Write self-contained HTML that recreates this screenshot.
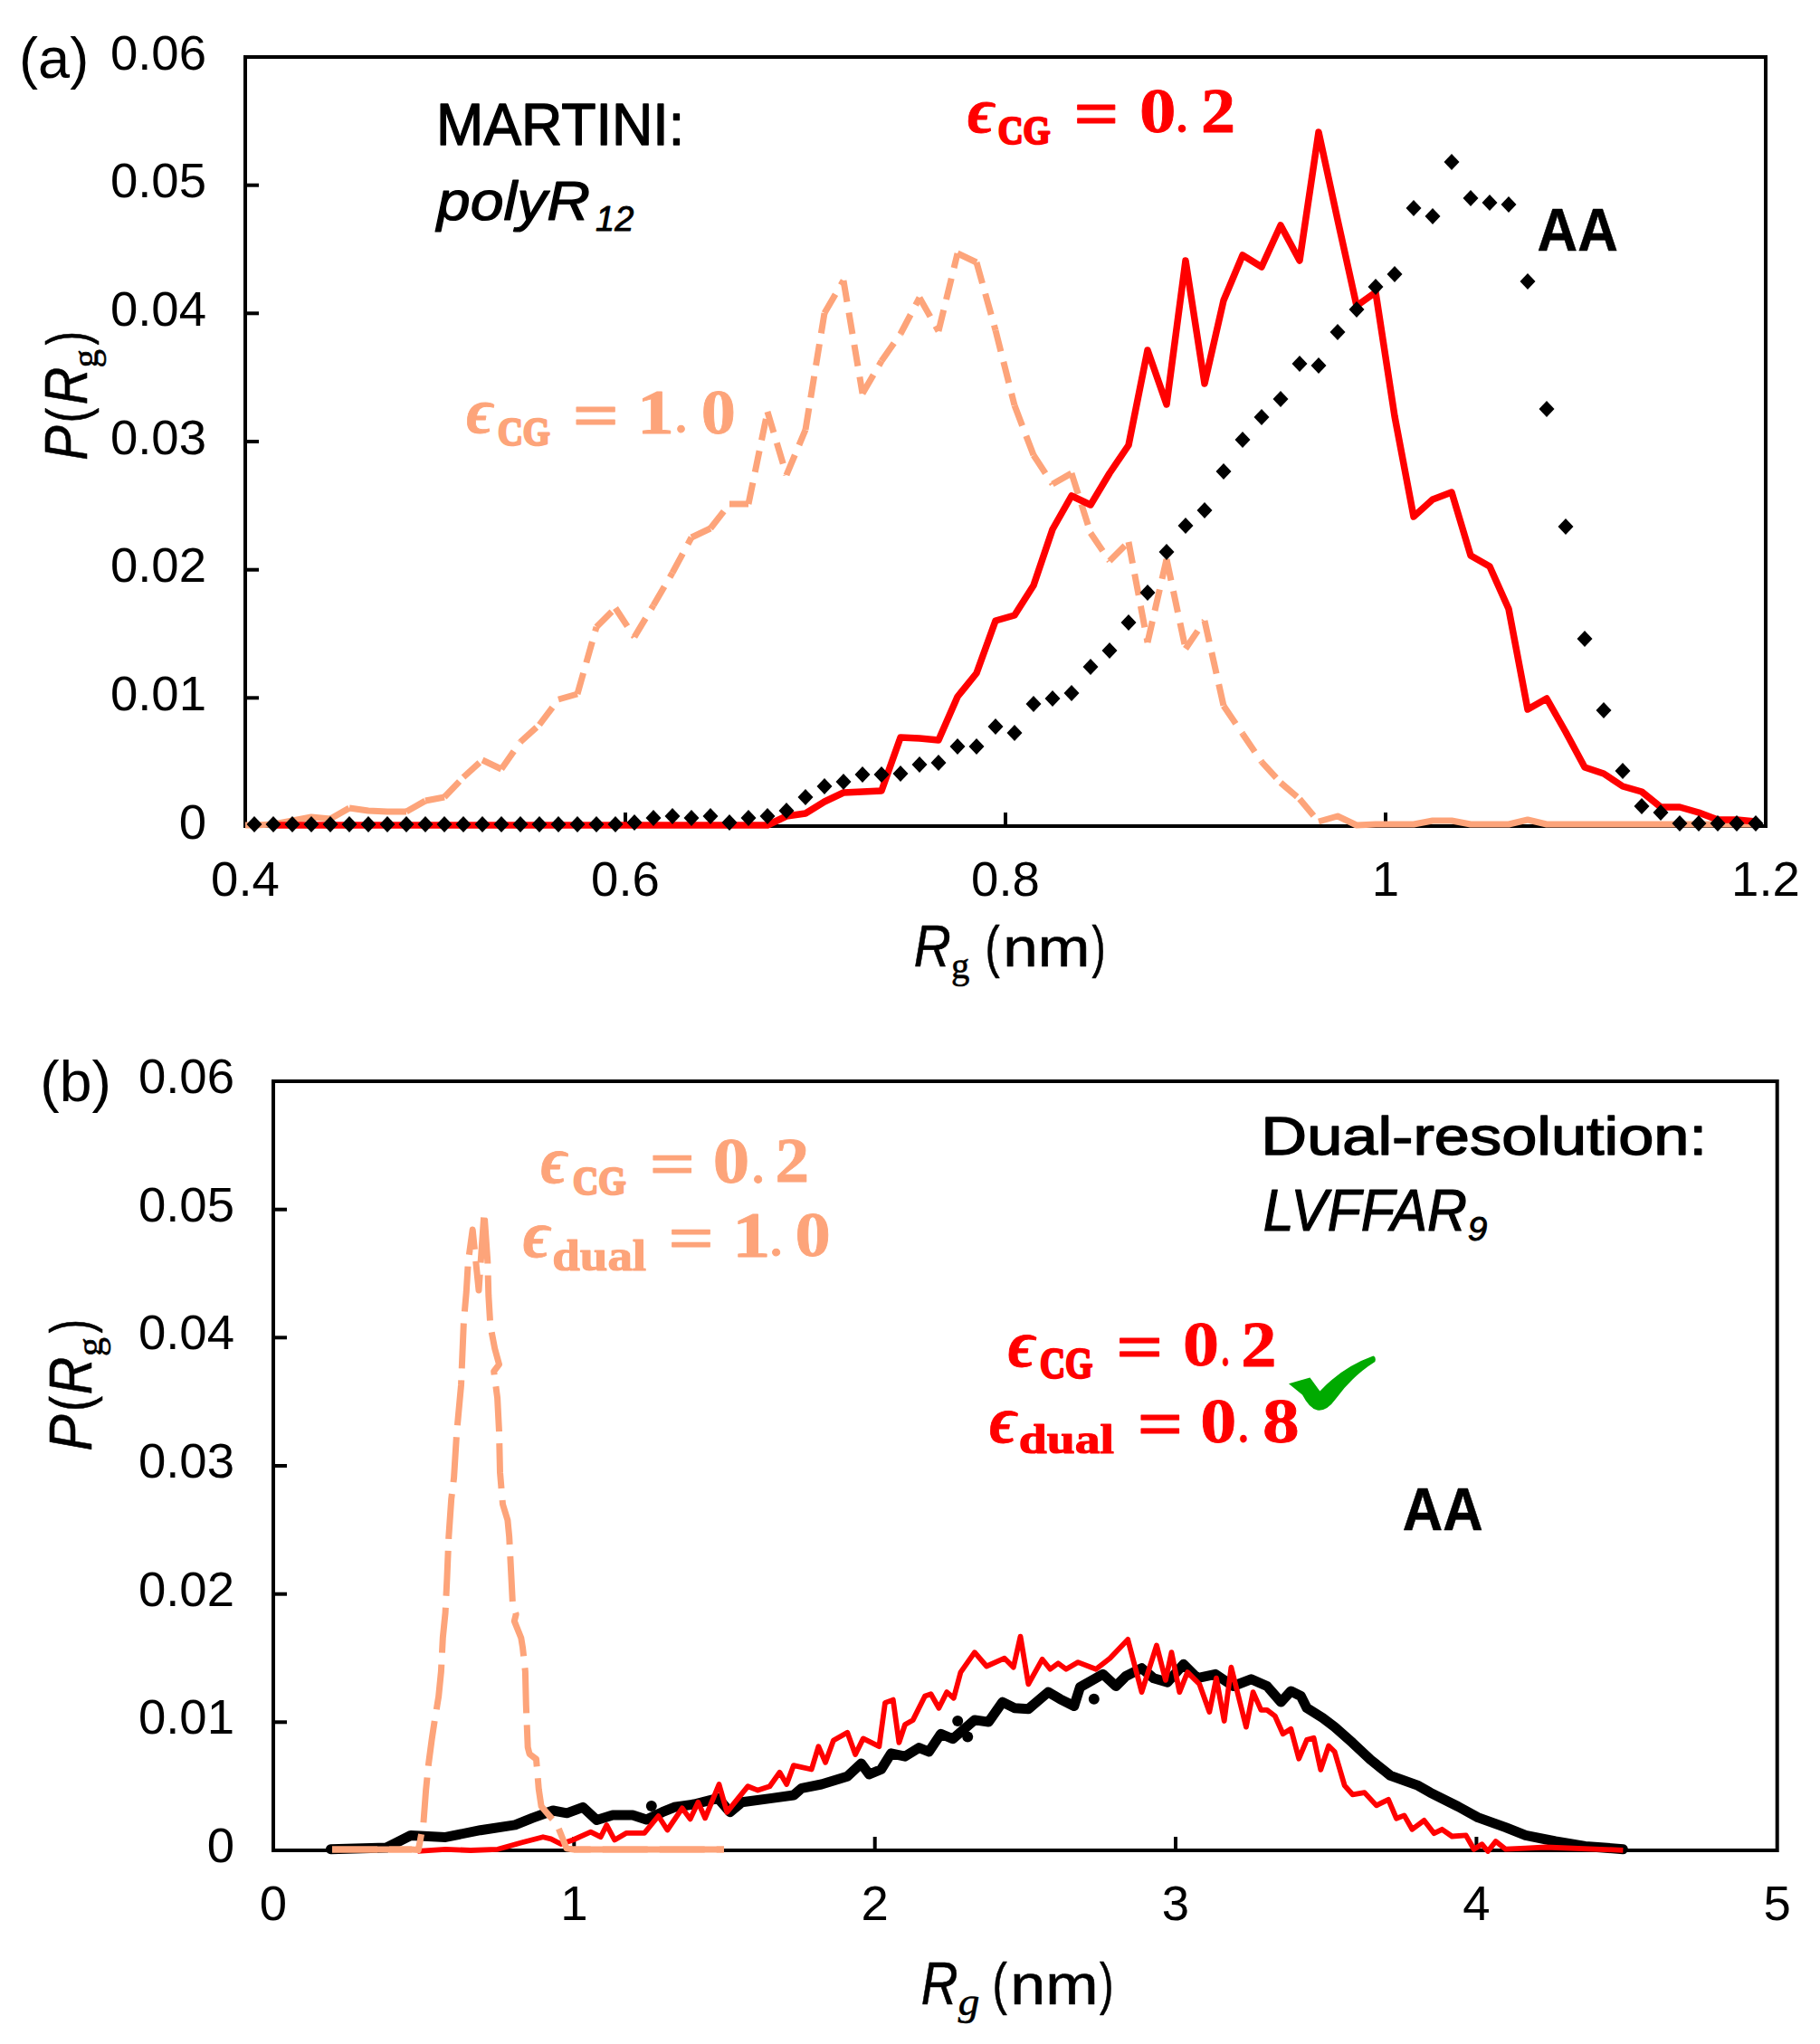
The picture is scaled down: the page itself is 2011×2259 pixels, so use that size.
<!DOCTYPE html>
<html><head><meta charset="utf-8"><style>
html,body{margin:0;padding:0;background:#fff;overflow:hidden;}
svg{display:block;}
</style></head><body>
<svg width="2011" height="2259" viewBox="0 0 2011 2259">
<rect width="2011" height="2259" fill="#fff"/>
<rect x="271" y="63" width="1680" height="850" fill="none" stroke="#000" stroke-width="4"/>
<line x1="271" y1="771.3" x2="286" y2="771.3" stroke="#000" stroke-width="4"/>
<line x1="271" y1="629.7" x2="286" y2="629.7" stroke="#000" stroke-width="4"/>
<line x1="271" y1="488.0" x2="286" y2="488.0" stroke="#000" stroke-width="4"/>
<line x1="271" y1="346.3" x2="286" y2="346.3" stroke="#000" stroke-width="4"/>
<line x1="271" y1="204.7" x2="286" y2="204.7" stroke="#000" stroke-width="4"/>
<line x1="691.0" y1="913" x2="691.0" y2="898" stroke="#000" stroke-width="4"/>
<line x1="1111.0" y1="913" x2="1111.0" y2="898" stroke="#000" stroke-width="4"/>
<line x1="1531.0" y1="913" x2="1531.0" y2="898" stroke="#000" stroke-width="4"/>
<text x="228.0" y="926.5" font-family='"Liberation Sans", sans-serif' font-size="54.5" fill="#000" text-anchor="end">0</text>
<text x="228.0" y="784.8" font-family='"Liberation Sans", sans-serif' font-size="54.5" fill="#000" text-anchor="end">0.01</text>
<text x="228.0" y="643.2" font-family='"Liberation Sans", sans-serif' font-size="54.5" fill="#000" text-anchor="end">0.02</text>
<text x="228.0" y="501.5" font-family='"Liberation Sans", sans-serif' font-size="54.5" fill="#000" text-anchor="end">0.03</text>
<text x="228.0" y="359.8" font-family='"Liberation Sans", sans-serif' font-size="54.5" fill="#000" text-anchor="end">0.04</text>
<text x="228.0" y="218.2" font-family='"Liberation Sans", sans-serif' font-size="54.5" fill="#000" text-anchor="end">0.05</text>
<text x="228.0" y="76.5" font-family='"Liberation Sans", sans-serif' font-size="54.5" fill="#000" text-anchor="end">0.06</text>
<text x="271.0" y="989.8" font-family='"Liberation Sans", sans-serif' font-size="54.5" fill="#000" text-anchor="middle">0.4</text>
<text x="691.0" y="989.8" font-family='"Liberation Sans", sans-serif' font-size="54.5" fill="#000" text-anchor="middle">0.6</text>
<text x="1111.0" y="989.8" font-family='"Liberation Sans", sans-serif' font-size="54.5" fill="#000" text-anchor="middle">0.8</text>
<text x="1531.0" y="989.8" font-family='"Liberation Sans", sans-serif' font-size="54.5" fill="#000" text-anchor="middle">1</text>
<text x="1951.0" y="989.8" font-family='"Liberation Sans", sans-serif' font-size="54.5" fill="#000" text-anchor="middle">1.2</text>
<g stroke="#FDA47A" stroke-width="7" stroke-dasharray="24 12" stroke-linecap="butt" fill="none"><line x1="365.0" y1="905.0" x2="386.0" y2="893.0"/><line x1="449.0" y1="897.0" x2="470.0" y2="885.0"/><line x1="491.0" y1="881.0" x2="512.0" y2="859.0"/><line x1="512.0" y1="859.0" x2="533.0" y2="840.0"/><line x1="554.0" y1="850.0" x2="575.0" y2="820.0"/><line x1="575.0" y1="820.0" x2="596.0" y2="801.0"/><line x1="596.0" y1="801.0" x2="617.0" y2="773.0"/><line x1="638.0" y1="767.0" x2="659.0" y2="693.0"/><line x1="659.0" y1="693.0" x2="680.0" y2="672.0"/><line x1="680.0" y1="672.0" x2="701.0" y2="704.0"/><line x1="701.0" y1="704.0" x2="722.0" y2="669.0"/><line x1="722.0" y1="669.0" x2="743.0" y2="633.0"/><line x1="743.0" y1="633.0" x2="764.0" y2="594.0"/><line x1="785.0" y1="584.0" x2="806.0" y2="557.0"/><line x1="827.0" y1="557.0" x2="848.0" y2="455.0"/><line x1="848.0" y1="455.0" x2="869.0" y2="525.0"/><line x1="869.0" y1="525.0" x2="890.0" y2="475.0"/><line x1="890.0" y1="475.0" x2="911.0" y2="346.0"/><line x1="911.0" y1="346.0" x2="932.0" y2="310.0"/><line x1="932.0" y1="310.0" x2="953.0" y2="435.0"/><line x1="953.0" y1="435.0" x2="974.0" y2="399.0"/><line x1="974.0" y1="399.0" x2="995.0" y2="369.0"/><line x1="995.0" y1="369.0" x2="1016.0" y2="329.0"/><line x1="1016.0" y1="329.0" x2="1037.0" y2="366.0"/><line x1="1037.0" y1="366.0" x2="1058.0" y2="280.0"/><line x1="1079.0" y1="290.0" x2="1100.0" y2="365.0"/><line x1="1100.0" y1="365.0" x2="1121.0" y2="448.0"/><line x1="1121.0" y1="448.0" x2="1142.0" y2="503.0"/><line x1="1142.0" y1="503.0" x2="1163.0" y2="535.0"/><line x1="1163.0" y1="535.0" x2="1184.0" y2="523.0"/><line x1="1184.0" y1="523.0" x2="1205.0" y2="589.0"/><line x1="1205.0" y1="589.0" x2="1226.0" y2="620.0"/><line x1="1226.0" y1="620.0" x2="1247.0" y2="599.0"/><line x1="1247.0" y1="599.0" x2="1268.0" y2="710.0"/><line x1="1268.0" y1="710.0" x2="1289.0" y2="618.0"/><line x1="1289.0" y1="618.0" x2="1310.0" y2="717.0"/><line x1="1310.0" y1="717.0" x2="1331.0" y2="686.0"/><line x1="1331.0" y1="686.0" x2="1352.0" y2="780.0"/><line x1="1352.0" y1="780.0" x2="1373.0" y2="811.0"/><line x1="1373.0" y1="811.0" x2="1394.0" y2="842.0"/><line x1="1394.0" y1="842.0" x2="1415.0" y2="865.0"/><line x1="1415.0" y1="865.0" x2="1436.0" y2="883.0"/><line x1="1436.0" y1="883.0" x2="1457.0" y2="908.0"/><polyline points="271.0,912.0 281.0,912.0 302.0,911.0 323.0,907.0 344.0,903.0 365.0,905.0" stroke-dasharray="none" stroke-linejoin="round"/><polyline points="386.0,893.0 407.0,896.0 428.0,897.0 449.0,897.0" stroke-dasharray="none" stroke-linejoin="round"/><polyline points="470.0,885.0 491.0,881.0" stroke-dasharray="none" stroke-linejoin="round"/><polyline points="533.0,840.0 554.0,850.0" stroke-dasharray="none" stroke-linejoin="round"/><polyline points="617.0,773.0 638.0,767.0" stroke-dasharray="none" stroke-linejoin="round"/><polyline points="764.0,594.0 785.0,584.0" stroke-dasharray="none" stroke-linejoin="round"/><polyline points="806.0,557.0 827.0,557.0" stroke-dasharray="none" stroke-linejoin="round"/><polyline points="1058.0,280.0 1079.0,290.0" stroke-dasharray="none" stroke-linejoin="round"/><polyline points="1457.0,908.0 1478.0,902.0 1499.0,912.0 1520.0,911.0 1541.0,911.0 1562.0,911.0 1583.0,907.0 1604.0,907.0 1625.0,911.0 1646.0,911.0 1667.0,911.0 1688.0,906.0 1709.0,911.0 1730.0,911.0 1751.0,911.0 1772.0,911.0 1793.0,911.0 1814.0,911.0 1835.0,911.0 1856.0,911.0 1877.0,911.0 1898.0,911.0 1919.0,911.0 1940.0,911.0" stroke-dasharray="none" stroke-linejoin="round"/></g>
<polyline points="302.0,912.0 323.0,912.0 344.0,912.0 365.0,912.0 386.0,912.0 407.0,912.0 428.0,912.0 449.0,912.0 470.0,912.0 491.0,912.0 512.0,912.0 533.0,912.0 554.0,912.0 575.0,912.0 596.0,912.0 617.0,912.0 638.0,912.0 659.0,912.0 680.0,912.0 701.0,912.0 722.0,912.0 743.0,912.0 764.0,912.0 785.0,912.0 806.0,912.0 827.0,912.0 848.0,912.0 869.0,902.0 890.0,899.0 911.0,886.0 932.0,876.0 953.0,875.0 974.0,874.0 995.0,815.0 1016.0,816.0 1037.0,818.0 1058.0,770.0 1079.0,744.0 1100.0,686.0 1121.0,680.0 1142.0,647.0 1163.0,585.0 1184.0,548.0 1205.0,558.0 1226.0,523.0 1247.0,492.0 1268.0,387.0 1289.0,447.0 1310.0,288.0 1331.0,424.0 1352.0,332.0 1373.0,282.0 1394.0,295.0 1415.0,249.0 1436.0,288.0 1457.0,146.0 1478.0,243.0 1499.0,338.0 1520.0,323.0 1541.0,460.0 1562.0,571.0 1583.0,552.0 1604.0,544.0 1625.0,614.0 1646.0,626.0 1667.0,673.0 1688.0,784.0 1709.0,772.0 1730.0,809.0 1751.0,848.0 1772.0,855.0 1793.0,869.0 1814.0,875.0 1835.0,892.0 1856.0,892.0 1877.0,898.0 1898.0,906.0 1919.0,906.0 1940.0,908.0" fill="none" stroke="#FF0000" stroke-width="7.5" stroke-linejoin="round"/>
<path d="M281 902L289.5 911L281 920L272.5 911Z" fill="#000"/>
<path d="M302 902L310.5 911L302 920L293.5 911Z" fill="#000"/>
<path d="M323 902L331.5 911L323 920L314.5 911Z" fill="#000"/>
<path d="M344 902L352.5 911L344 920L335.5 911Z" fill="#000"/>
<path d="M365 902L373.5 911L365 920L356.5 911Z" fill="#000"/>
<path d="M386 902L394.5 911L386 920L377.5 911Z" fill="#000"/>
<path d="M407 902L415.5 911L407 920L398.5 911Z" fill="#000"/>
<path d="M428 902L436.5 911L428 920L419.5 911Z" fill="#000"/>
<path d="M449 902L457.5 911L449 920L440.5 911Z" fill="#000"/>
<path d="M470 902L478.5 911L470 920L461.5 911Z" fill="#000"/>
<path d="M491 902L499.5 911L491 920L482.5 911Z" fill="#000"/>
<path d="M512 902L520.5 911L512 920L503.5 911Z" fill="#000"/>
<path d="M533 902L541.5 911L533 920L524.5 911Z" fill="#000"/>
<path d="M554 902L562.5 911L554 920L545.5 911Z" fill="#000"/>
<path d="M575 902L583.5 911L575 920L566.5 911Z" fill="#000"/>
<path d="M596 902L604.5 911L596 920L587.5 911Z" fill="#000"/>
<path d="M617 902L625.5 911L617 920L608.5 911Z" fill="#000"/>
<path d="M638 902L646.5 911L638 920L629.5 911Z" fill="#000"/>
<path d="M659 902L667.5 911L659 920L650.5 911Z" fill="#000"/>
<path d="M680 902L688.5 911L680 920L671.5 911Z" fill="#000"/>
<path d="M701 900L709.5 909L701 918L692.5 909Z" fill="#000"/>
<path d="M722 895L730.5 904L722 913L713.5 904Z" fill="#000"/>
<path d="M743 893L751.5 902L743 911L734.5 902Z" fill="#000"/>
<path d="M764 895L772.5 904L764 913L755.5 904Z" fill="#000"/>
<path d="M785 893L793.5 902L785 911L776.5 902Z" fill="#000"/>
<path d="M806 900L814.5 909L806 918L797.5 909Z" fill="#000"/>
<path d="M827 895L835.5 904L827 913L818.5 904Z" fill="#000"/>
<path d="M848 893L856.5 902L848 911L839.5 902Z" fill="#000"/>
<path d="M869 887L877.5 896L869 905L860.5 896Z" fill="#000"/>
<path d="M890 872L898.5 881L890 890L881.5 881Z" fill="#000"/>
<path d="M911 860L919.5 869L911 878L902.5 869Z" fill="#000"/>
<path d="M932 855L940.5 864L932 873L923.5 864Z" fill="#000"/>
<path d="M953 847L961.5 856L953 865L944.5 856Z" fill="#000"/>
<path d="M974 847L982.5 856L974 865L965.5 856Z" fill="#000"/>
<path d="M995 846L1003.5 855L995 864L986.5 855Z" fill="#000"/>
<path d="M1016 836L1024.5 845L1016 854L1007.5 845Z" fill="#000"/>
<path d="M1037 834L1045.5 843L1037 852L1028.5 843Z" fill="#000"/>
<path d="M1058 816L1066.5 825L1058 834L1049.5 825Z" fill="#000"/>
<path d="M1079 816L1087.5 825L1079 834L1070.5 825Z" fill="#000"/>
<path d="M1100 794L1108.5 803L1100 812L1091.5 803Z" fill="#000"/>
<path d="M1121 801L1129.5 810L1121 819L1112.5 810Z" fill="#000"/>
<path d="M1142 769L1150.5 778L1142 787L1133.5 778Z" fill="#000"/>
<path d="M1163 763L1171.5 772L1163 781L1154.5 772Z" fill="#000"/>
<path d="M1184 757L1192.5 766L1184 775L1175.5 766Z" fill="#000"/>
<path d="M1205 728L1213.5 737L1205 746L1196.5 737Z" fill="#000"/>
<path d="M1226 710L1234.5 719L1226 728L1217.5 719Z" fill="#000"/>
<path d="M1247 679L1255.5 688L1247 697L1238.5 688Z" fill="#000"/>
<path d="M1268 646L1276.5 655L1268 664L1259.5 655Z" fill="#000"/>
<path d="M1289 601L1297.5 610L1289 619L1280.5 610Z" fill="#000"/>
<path d="M1310 572L1318.5 581L1310 590L1301.5 581Z" fill="#000"/>
<path d="M1331 555L1339.5 564L1331 573L1322.5 564Z" fill="#000"/>
<path d="M1352 512L1360.5 521L1352 530L1343.5 521Z" fill="#000"/>
<path d="M1373 477L1381.5 486L1373 495L1364.5 486Z" fill="#000"/>
<path d="M1394 452L1402.5 461L1394 470L1385.5 461Z" fill="#000"/>
<path d="M1415 432L1423.5 441L1415 450L1406.5 441Z" fill="#000"/>
<path d="M1436 393L1444.5 402L1436 411L1427.5 402Z" fill="#000"/>
<path d="M1457 395L1465.5 404L1457 413L1448.5 404Z" fill="#000"/>
<path d="M1478 358L1486.5 367L1478 376L1469.5 367Z" fill="#000"/>
<path d="M1499 333L1507.5 342L1499 351L1490.5 342Z" fill="#000"/>
<path d="M1520 308L1528.5 317L1520 326L1511.5 317Z" fill="#000"/>
<path d="M1541 294L1549.5 303L1541 312L1532.5 303Z" fill="#000"/>
<path d="M1562 221L1570.5 230L1562 239L1553.5 230Z" fill="#000"/>
<path d="M1583 230L1591.5 239L1583 248L1574.5 239Z" fill="#000"/>
<path d="M1604 170L1612.5 179L1604 188L1595.5 179Z" fill="#000"/>
<path d="M1625 210L1633.5 219L1625 228L1616.5 219Z" fill="#000"/>
<path d="M1646 215L1654.5 224L1646 233L1637.5 224Z" fill="#000"/>
<path d="M1667 217L1675.5 226L1667 235L1658.5 226Z" fill="#000"/>
<path d="M1688 302L1696.5 311L1688 320L1679.5 311Z" fill="#000"/>
<path d="M1709 443L1717.5 452L1709 461L1700.5 452Z" fill="#000"/>
<path d="M1730 573L1738.5 582L1730 591L1721.5 582Z" fill="#000"/>
<path d="M1751 697L1759.5 706L1751 715L1742.5 706Z" fill="#000"/>
<path d="M1772 776L1780.5 785L1772 794L1763.5 785Z" fill="#000"/>
<path d="M1793 843L1801.5 852L1793 861L1784.5 852Z" fill="#000"/>
<path d="M1814 882L1822.5 891L1814 900L1805.5 891Z" fill="#000"/>
<path d="M1835 889L1843.5 898L1835 907L1826.5 898Z" fill="#000"/>
<path d="M1856 901L1864.5 910L1856 919L1847.5 910Z" fill="#000"/>
<path d="M1877 901L1885.5 910L1877 919L1868.5 910Z" fill="#000"/>
<path d="M1898 901L1906.5 910L1898 919L1889.5 910Z" fill="#000"/>
<path d="M1919 901L1927.5 910L1919 919L1910.5 910Z" fill="#000"/>
<path d="M1940 901L1948.5 910L1940 919L1931.5 910Z" fill="#000"/>
<text x="21.09" y="86.12" font-family='"Liberation Sans", sans-serif' font-size="63.65" font-weight="normal" font-style="normal" fill="#000" textLength="77.13" lengthAdjust="spacingAndGlyphs">(a)</text>
<text x="481.97" y="160.40" font-family='"Liberation Sans", sans-serif' font-size="65.41" font-weight="normal" font-style="normal" fill="#000" stroke="#000" stroke-width="1.4" stroke-linejoin="round" textLength="274.23" lengthAdjust="spacingAndGlyphs">MARTINI:</text>
<text x="482.85" y="242.65" font-family='"Liberation Sans", sans-serif' font-size="60.94" font-weight="normal" font-style="italic" fill="#000" stroke="#000" stroke-width="1.2" stroke-linejoin="round" textLength="169.19" lengthAdjust="spacingAndGlyphs">polyR</text>
<text x="658.07" y="255.45" font-family='"Liberation Sans", sans-serif' font-size="39.24" font-weight="normal" font-style="italic" fill="#000" stroke="#000" stroke-width="0.9" stroke-linejoin="round" textLength="42.14" lengthAdjust="spacingAndGlyphs">12</text>
<text x="1698.56" y="276.70" font-family='"Liberation Sans", sans-serif' font-size="66.57" font-weight="bold" font-style="normal" fill="#000" stroke="#000" stroke-width="0.6" stroke-linejoin="round" textLength="89.17" lengthAdjust="spacingAndGlyphs">AA</text>
<text x="1068.96" y="146.24" font-family='"Liberation Serif", serif' font-size="70.76" font-weight="bold" font-style="italic" fill="#FF0000" stroke="#FF0000" stroke-width="0.8" stroke-linejoin="round" textLength="30.54" lengthAdjust="spacingAndGlyphs">&#x3F5;</text>
<text x="1102.72" y="159.16" font-family='"Liberation Serif", serif' font-size="45.25" font-weight="bold" font-style="normal" fill="#FF0000" stroke="#FF0000" stroke-width="2.6" stroke-linejoin="round" textLength="57.84" lengthAdjust="spacingAndGlyphs">CG</text>
<text x="1186.29" y="150.90" font-family='"Liberation Serif", serif' font-size="73.70" font-weight="bold" font-style="normal" fill="#FF0000" stroke="#FF0000" stroke-width="0.8" stroke-linejoin="round" textLength="50.50" lengthAdjust="spacingAndGlyphs">=</text>
<text x="1259.02" y="146.21" font-family='"Liberation Serif", serif' font-size="70.54" font-weight="bold" font-style="normal" fill="#FF0000" stroke="#FF0000" stroke-width="0.8" stroke-linejoin="round" textLength="40.46" lengthAdjust="spacingAndGlyphs">0</text>
<text x="1299.99" y="146.22" font-family='"Liberation Serif", serif' font-size="48.12" font-weight="bold" font-style="normal" fill="#FF0000" stroke="#FF0000" stroke-width="0.8" stroke-linejoin="round" textLength="12.03" lengthAdjust="spacingAndGlyphs">.</text>
<text x="1326.90" y="145.90" font-family='"Liberation Serif", serif' font-size="69.17" font-weight="bold" font-style="normal" fill="#FF0000" stroke="#FF0000" stroke-width="0.8" stroke-linejoin="round" textLength="38.07" lengthAdjust="spacingAndGlyphs">2</text>
<text x="515.36" y="478.06" font-family='"Liberation Serif", serif' font-size="68.89" font-weight="bold" font-style="italic" fill="#FDA47A" stroke="#FDA47A" stroke-width="0.8" stroke-linejoin="round" textLength="30.43" lengthAdjust="spacingAndGlyphs">&#x3F5;</text>
<text x="550.02" y="491.86" font-family='"Liberation Serif", serif' font-size="45.25" font-weight="bold" font-style="normal" fill="#FDA47A" stroke="#FDA47A" stroke-width="2.6" stroke-linejoin="round" textLength="57.84" lengthAdjust="spacingAndGlyphs">CG</text>
<text x="632.58" y="482.98" font-family='"Liberation Serif", serif' font-size="72.59" font-weight="bold" font-style="normal" fill="#FDA47A" stroke="#FDA47A" stroke-width="0.8" stroke-linejoin="round" textLength="51.73" lengthAdjust="spacingAndGlyphs">=</text>
<text x="703.89" y="478.70" font-family='"Liberation Serif", serif' font-size="70.74" font-weight="bold" font-style="normal" fill="#FDA47A" stroke="#FDA47A" stroke-width="0.8" stroke-linejoin="round" textLength="41.29" lengthAdjust="spacingAndGlyphs">1</text>
<text x="746.49" y="478.22" font-family='"Liberation Serif", serif' font-size="48.12" font-weight="bold" font-style="normal" fill="#FDA47A" stroke="#FDA47A" stroke-width="0.8" stroke-linejoin="round" textLength="12.03" lengthAdjust="spacingAndGlyphs">.</text>
<text x="774.70" y="478.91" font-family='"Liberation Serif", serif' font-size="70.54" font-weight="bold" font-style="normal" fill="#FDA47A" stroke="#FDA47A" stroke-width="0.8" stroke-linejoin="round" textLength="38.11" lengthAdjust="spacingAndGlyphs">0</text>
<g transform="rotate(-90)">
<text x="-508.77" y="96.40" font-family='"Liberation Sans", sans-serif' font-size="65.99" font-weight="normal" font-style="italic" fill="#000" stroke="#000" stroke-width="0.6" stroke-linejoin="round" textLength="38.33" lengthAdjust="spacingAndGlyphs">P</text>
</g>
<g transform="rotate(-90)">
<text x="-467.24" y="96.11" font-family='"Liberation Sans", sans-serif' font-size="62.26" font-weight="normal" font-style="normal" fill="#000" stroke="#000" stroke-width="0.6" stroke-linejoin="round" textLength="16.33" lengthAdjust="spacingAndGlyphs">(</text>
</g>
<g transform="rotate(-90)">
<text x="-447.26" y="96.40" font-family='"Liberation Sans", sans-serif' font-size="65.99" font-weight="normal" font-style="italic" fill="#000" stroke="#000" stroke-width="0.6" stroke-linejoin="round" textLength="41.43" lengthAdjust="spacingAndGlyphs">R</text>
</g>
<g transform="rotate(-90)">
<text x="-406.46" y="107.82" font-family='"Liberation Serif", serif' font-size="42.52" font-weight="normal" font-style="normal" fill="#000" stroke="#000" stroke-width="0.6" stroke-linejoin="round" textLength="20.43" lengthAdjust="spacingAndGlyphs">g</text>
</g>
<g transform="rotate(-90)">
<text x="-381.27" y="96.11" font-family='"Liberation Sans", sans-serif' font-size="62.26" font-weight="normal" font-style="normal" fill="#000" stroke="#000" stroke-width="0.6" stroke-linejoin="round" textLength="15.07" lengthAdjust="spacingAndGlyphs">)</text>
</g>
<text x="1009.75" y="1067.60" font-family='"Liberation Sans", sans-serif' font-size="64.25" font-weight="normal" font-style="italic" fill="#000" stroke="#000" stroke-width="0.6" stroke-linejoin="round" textLength="40.99" lengthAdjust="spacingAndGlyphs">R</text>
<text x="1050.95" y="1081.45" font-family='"Liberation Serif", serif' font-size="42.39" font-weight="normal" font-style="normal" fill="#000" stroke="#000" stroke-width="0.6" stroke-linejoin="round" textLength="20.32" lengthAdjust="spacingAndGlyphs">g</text>
<text x="1088.38" y="1068.11" font-family='"Liberation Sans", sans-serif' font-size="62.26" font-weight="normal" font-style="normal" fill="#000" stroke="#000" stroke-width="0.6" stroke-linejoin="round" textLength="16.20" lengthAdjust="spacingAndGlyphs">(</text>
<text x="1108.30" y="1067.60" font-family='"Liberation Sans", sans-serif' font-size="60.59" font-weight="normal" font-style="normal" fill="#000" stroke="#000" stroke-width="0.6" stroke-linejoin="round" textLength="96.16" lengthAdjust="spacingAndGlyphs">nm</text>
<text x="1206.53" y="1068.11" font-family='"Liberation Sans", sans-serif' font-size="62.26" font-weight="normal" font-style="normal" fill="#000" stroke="#000" stroke-width="0.6" stroke-linejoin="round" textLength="15.07" lengthAdjust="spacingAndGlyphs">)</text>
<rect x="302" y="1195" width="1661.7" height="850" fill="none" stroke="#000" stroke-width="4"/>
<line x1="302" y1="1903.3" x2="317" y2="1903.3" stroke="#000" stroke-width="4"/>
<line x1="302" y1="1761.7" x2="317" y2="1761.7" stroke="#000" stroke-width="4"/>
<line x1="302" y1="1620.0" x2="317" y2="1620.0" stroke="#000" stroke-width="4"/>
<line x1="302" y1="1478.3" x2="317" y2="1478.3" stroke="#000" stroke-width="4"/>
<line x1="302" y1="1336.7" x2="317" y2="1336.7" stroke="#000" stroke-width="4"/>
<line x1="634.3" y1="2045" x2="634.3" y2="2030" stroke="#000" stroke-width="4"/>
<line x1="966.7" y1="2045" x2="966.7" y2="2030" stroke="#000" stroke-width="4"/>
<line x1="1299.0" y1="2045" x2="1299.0" y2="2030" stroke="#000" stroke-width="4"/>
<line x1="1631.4" y1="2045" x2="1631.4" y2="2030" stroke="#000" stroke-width="4"/>
<text x="259.0" y="2058.0" font-family='"Liberation Sans", sans-serif' font-size="54.5" fill="#000" text-anchor="end">0</text>
<text x="259.0" y="1916.3" font-family='"Liberation Sans", sans-serif' font-size="54.5" fill="#000" text-anchor="end">0.01</text>
<text x="259.0" y="1774.7" font-family='"Liberation Sans", sans-serif' font-size="54.5" fill="#000" text-anchor="end">0.02</text>
<text x="259.0" y="1633.0" font-family='"Liberation Sans", sans-serif' font-size="54.5" fill="#000" text-anchor="end">0.03</text>
<text x="259.0" y="1491.3" font-family='"Liberation Sans", sans-serif' font-size="54.5" fill="#000" text-anchor="end">0.04</text>
<text x="259.0" y="1349.7" font-family='"Liberation Sans", sans-serif' font-size="54.5" fill="#000" text-anchor="end">0.05</text>
<text x="259.0" y="1208.0" font-family='"Liberation Sans", sans-serif' font-size="54.5" fill="#000" text-anchor="end">0.06</text>
<text x="302.0" y="2122.3" font-family='"Liberation Sans", sans-serif' font-size="54.5" fill="#000" text-anchor="middle">0</text>
<text x="634.3" y="2122.3" font-family='"Liberation Sans", sans-serif' font-size="54.5" fill="#000" text-anchor="middle">1</text>
<text x="966.7" y="2122.3" font-family='"Liberation Sans", sans-serif' font-size="54.5" fill="#000" text-anchor="middle">2</text>
<text x="1299.0" y="2122.3" font-family='"Liberation Sans", sans-serif' font-size="54.5" fill="#000" text-anchor="middle">3</text>
<text x="1631.4" y="2122.3" font-family='"Liberation Sans", sans-serif' font-size="54.5" fill="#000" text-anchor="middle">4</text>
<text x="1963.7" y="2122.3" font-family='"Liberation Sans", sans-serif' font-size="54.5" fill="#000" text-anchor="middle">5</text>
<polyline points="365.4,2043.8 427.0,2042.0 453.8,2028.5 492.3,2030.4 530.8,2022.7 569.2,2016.9 588.5,2009.2 611.0,2001.0 626.4,2003.8 644.0,1997.3 659.3,2011.5 677.0,2006.0 699.0,2006.0 714.3,2011.0 731.9,2002.7 745.0,1997.3 767.0,1994.0 793.4,1987.4 806.6,2002.7 819.8,1991.8 852.7,1987.4 877.0,1984.0 885.7,1976.4 907.7,1972.0 936.3,1963.2 951.6,1948.9 960.4,1961.0 973.6,1955.5 984.6,1937.9 1000.0,1941.2 1015.4,1931.6 1026.4,1936.0 1039.6,1916.3 1052.7,1921.8 1076.9,1900.9 1092.3,1903.1 1107.7,1881.1 1120.9,1887.7 1136.3,1888.8 1158.2,1870.1 1171.4,1877.8 1186.8,1885.5 1193.4,1864.6 1218.7,1850.3 1233.0,1863.5 1244.0,1852.5 1261.5,1843.7 1274.7,1854.7 1290.0,1859.1 1307.7,1839.3 1323.0,1854.7 1342.9,1850.3 1362.6,1863.5 1382.4,1855.8 1400.0,1863.5 1415.4,1881.1 1426.4,1869.0 1437.4,1874.5 1444.0,1887.7 1461.5,1898.7 1474.7,1908.6 1494.5,1926.2 1514.3,1944.8 1536.3,1962.4 1567.0,1973.4 1580.2,1981.1 1611.0,1996.5 1633.0,2008.6 1663.7,2019.6 1685.7,2028.4 1718.7,2035.0 1751.6,2040.4 1793.4,2043.7" fill="none" stroke="#000" stroke-width="11" stroke-linecap="round" stroke-linejoin="round"/>
<circle cx="719.8" cy="1996" r="6" fill="#000"/>
<circle cx="1058.2" cy="1902" r="6" fill="#000"/>
<circle cx="1069.2" cy="1919.6" r="6" fill="#000"/>
<circle cx="1208.8" cy="1877.8" r="6" fill="#000"/>
<polyline points="461.5,2045.8 492.3,2043.8 520.0,2045.0 550.0,2043.8 576.9,2036.2 600.0,2030.2 608.8,2032.4 619.8,2038.0 633.0,2033.5 652.7,2024.7 663.7,2030.2 670.3,2017.0 679.1,2033.5 692.3,2025.8 712.0,2025.8 727.5,2007.0 737.4,2022.5 753.8,1998.4 762.6,2010.4 771.4,1991.8 779.1,2009.3 794.5,1972.0 803.3,2002.7 826.4,1974.2 837.4,1978.6 850.5,1974.2 861.5,1958.8 869.2,1972.0 876.9,1951.1 896.7,1955.5 904.4,1930.2 912.1,1947.8 920.9,1923.6 936.3,1914.8 945.1,1939.0 953.8,1921.4 971.4,1930.2 978.0,1881.9 986.8,1878.6 993.4,1925.8 1000.0,1906.0 1008.8,1900.9 1022.0,1874.5 1028.6,1872.3 1037.4,1887.7 1046.2,1870.1 1053.8,1876.7 1061.5,1848.1 1076.9,1826.2 1090.1,1841.5 1109.9,1832.7 1119.8,1842.6 1127.5,1808.6 1136.3,1861.3 1151.6,1833.8 1160.4,1844.8 1169.2,1838.2 1178.0,1844.8 1191.2,1837.1 1211.0,1844.8 1226.4,1832.7 1246.2,1811.9 1261.5,1870.1 1278.0,1818.5 1287.9,1856.9 1294.5,1826.2 1303.3,1870.1 1312.1,1848.1 1325.3,1861.3 1336.3,1892.1 1344.0,1854.7 1352.7,1902.0 1360.4,1842.6 1376.9,1908.6 1384.6,1870.1 1393.4,1889.9 1400.0,1889.9 1408.8,1896.5 1417.6,1916.3 1426.4,1910.8 1435.2,1943.7 1444.0,1922.9 1451.6,1920.7 1459.3,1955.8 1468.1,1929.5 1474.7,1936.0 1485.7,1973.4 1494.5,1983.3 1507.7,1981.1 1520.9,1995.4 1534.1,1988.8 1542.9,2009.7 1551.6,2006.4 1560.4,2021.8 1573.6,2011.9 1584.6,2026.2 1593.4,2021.8 1604.4,2029.5 1619.8,2028.4 1628.6,2043.7 1637.4,2038.2 1644.0,2046.0 1652.7,2035.0 1663.7,2043.7 1685.7,2042.6 1707.7,2041.5 1793.4,2044.8" fill="none" stroke="#FF0000" stroke-width="5.8" stroke-linejoin="round"/>
<polyline points="367.0,2044.0 375.0,2044.0 383.0,2044.0 391.0,2044.0 399.0,2044.0 407.0,2044.0 415.0,2044.0 423.0,2044.0 431.0,2044.0 439.0,2044.0 447.0,2044.0 455.0,2044.0 462.3,2044.5 467.9,2014.8 470.7,1977.6 473.5,1949.7 477.2,1921.8 480.0,1903.2 484.6,1875.3 487.4,1847.4 489.3,1810.2 492.1,1782.3 493.9,1745.1 495.8,1698.6 498.7,1656.6 501.6,1633.0 504.6,1584.0 509.5,1531.0 512.4,1461.0 515.3,1427.6 517.3,1394.4 522.2,1359.0 529.0,1426.0 535.0,1339.6 538.8,1394.4 539.8,1431.5 541.8,1464.8 546.7,1490.3 551.5,1507.9 545.7,1515.7 549.6,1545.0 551.5,1582.2 552.5,1627.2 555.5,1662.5 560.9,1680.0 562.7,1698.6 564.6,1735.8 566.5,1773.0 570.2,1784.1 568.3,1791.6 575.8,1810.2 577.6,1821.3 580.4,1847.4 581.3,1884.6 583.2,1931.1 585.1,1938.5 592.5,1944.1 595.3,1977.6 598.1,1996.2 607.4,2007.3 614.8,2014.8 626.0,2042.7 634.0,2044.0 642.0,2044.0 650.0,2044.0 658.0,2044.0 666.0,2044.0 674.0,2044.0 682.0,2044.0 690.0,2044.0 698.0,2044.0 706.0,2044.0 714.0,2044.0 722.0,2044.0 730.0,2044.0 738.0,2044.0 746.0,2044.0 754.0,2044.0 762.0,2044.0 770.0,2044.0 778.0,2044.0 786.0,2044.0 794.0,2044.0 800.0,2044.0" fill="none" stroke="#FDA47A" stroke-width="7" stroke-dasharray="50 13" stroke-linejoin="round"/>
<polyline points="367.0,2044.0 375.0,2044.0 383.0,2044.0 391.0,2044.0 399.0,2044.0 407.0,2044.0 415.0,2044.0 423.0,2044.0 431.0,2044.0 439.0,2044.0 447.0,2044.0 455.0,2044.0" fill="none" stroke="#FDA47A" stroke-width="7"/>
<polyline points="634.0,2044.0 642.0,2044.0 650.0,2044.0 658.0,2044.0 666.0,2044.0 674.0,2044.0 682.0,2044.0 690.0,2044.0 698.0,2044.0 706.0,2044.0 714.0,2044.0 722.0,2044.0 730.0,2044.0 738.0,2044.0 746.0,2044.0 754.0,2044.0 762.0,2044.0 770.0,2044.0 778.0,2044.0 786.0,2044.0 794.0,2044.0 800.0,2044.0" fill="none" stroke="#FDA47A" stroke-width="7"/>
<text x="44.31" y="1216.93" font-family='"Liberation Sans", sans-serif' font-size="63.11" font-weight="normal" font-style="normal" fill="#000" textLength="78.57" lengthAdjust="spacingAndGlyphs">(b)</text>
<text x="1393.33" y="1276.22" font-family='"Liberation Sans", sans-serif' font-size="59.64" font-weight="normal" font-style="normal" fill="#000" stroke="#000" stroke-width="1.4" stroke-linejoin="round" textLength="492.69" lengthAdjust="spacingAndGlyphs">Dual-resolution:</text>
<text x="1395.69" y="1359.90" font-family='"Liberation Sans", sans-serif' font-size="63.95" font-weight="normal" font-style="italic" fill="#000" stroke="#000" stroke-width="1.2" stroke-linejoin="round" textLength="225.21" lengthAdjust="spacingAndGlyphs">LVFFAR</text>
<text x="1621.72" y="1371.38" font-family='"Liberation Sans", sans-serif' font-size="37.85" font-weight="normal" font-style="italic" fill="#000" stroke="#000" stroke-width="0.9" stroke-linejoin="round" textLength="21.63" lengthAdjust="spacingAndGlyphs">9</text>
<text x="1549.77" y="1691.10" font-family='"Liberation Sans", sans-serif' font-size="66.57" font-weight="bold" font-style="normal" fill="#000" stroke="#000" stroke-width="0.6" stroke-linejoin="round" textLength="88.85" lengthAdjust="spacingAndGlyphs">AA</text>
<text x="597.58" y="1306.72" font-family='"Liberation Serif", serif' font-size="73.68" font-weight="bold" font-style="italic" fill="#FDA47A" stroke="#FDA47A" stroke-width="0.8" stroke-linejoin="round" textLength="30.02" lengthAdjust="spacingAndGlyphs">&#x3F5;</text>
<text x="633.09" y="1319.56" font-family='"Liberation Serif", serif' font-size="45.25" font-weight="bold" font-style="normal" fill="#FDA47A" stroke="#FDA47A" stroke-width="2.6" stroke-linejoin="round" textLength="58.57" lengthAdjust="spacingAndGlyphs">CG</text>
<text x="717.44" y="1309.60" font-family='"Liberation Serif", serif' font-size="69.62" font-weight="bold" font-style="normal" fill="#FDA47A" stroke="#FDA47A" stroke-width="0.8" stroke-linejoin="round" textLength="50.99" lengthAdjust="spacingAndGlyphs">=</text>
<text x="787.72" y="1306.71" font-family='"Liberation Serif", serif' font-size="70.98" font-weight="bold" font-style="normal" fill="#FDA47A" stroke="#FDA47A" stroke-width="0.8" stroke-linejoin="round" textLength="40.46" lengthAdjust="spacingAndGlyphs">0</text>
<text x="831.35" y="1306.67" font-family='"Liberation Serif", serif' font-size="51.20" font-weight="bold" font-style="normal" fill="#FDA47A" stroke="#FDA47A" stroke-width="0.8" stroke-linejoin="round" textLength="12.80" lengthAdjust="spacingAndGlyphs">.</text>
<text x="856.54" y="1306.30" font-family='"Liberation Serif", serif' font-size="69.17" font-weight="bold" font-style="normal" fill="#FDA47A" stroke="#FDA47A" stroke-width="0.8" stroke-linejoin="round" textLength="37.59" lengthAdjust="spacingAndGlyphs">2</text>
<text x="577.64" y="1389.22" font-family='"Liberation Serif", serif' font-size="73.68" font-weight="bold" font-style="italic" fill="#FDA47A" stroke="#FDA47A" stroke-width="0.8" stroke-linejoin="round" textLength="31.05" lengthAdjust="spacingAndGlyphs">&#x3F5;</text>
<text x="610.27" y="1403.69" font-family='"Liberation Serif", serif' font-size="49.57" font-weight="bold" font-style="normal" fill="#FDA47A" stroke="#FDA47A" stroke-width="1.2" stroke-linejoin="round" textLength="103.87" lengthAdjust="spacingAndGlyphs">dual</text>
<text x="738.34" y="1392.03" font-family='"Liberation Serif", serif' font-size="69.25" font-weight="bold" font-style="normal" fill="#FDA47A" stroke="#FDA47A" stroke-width="0.8" stroke-linejoin="round" textLength="50.99" lengthAdjust="spacingAndGlyphs">=</text>
<text x="808.99" y="1388.90" font-family='"Liberation Serif", serif' font-size="71.20" font-weight="bold" font-style="normal" fill="#FDA47A" stroke="#FDA47A" stroke-width="0.8" stroke-linejoin="round" textLength="42.51" lengthAdjust="spacingAndGlyphs">1</text>
<text x="851.15" y="1388.22" font-family='"Liberation Serif", serif' font-size="48.12" font-weight="bold" font-style="normal" fill="#FDA47A" stroke="#FDA47A" stroke-width="0.8" stroke-linejoin="round" textLength="12.80" lengthAdjust="spacingAndGlyphs">.</text>
<text x="878.61" y="1388.22" font-family='"Liberation Serif", serif' font-size="69.65" font-weight="bold" font-style="normal" fill="#FDA47A" stroke="#FDA47A" stroke-width="0.8" stroke-linejoin="round" textLength="39.28" lengthAdjust="spacingAndGlyphs">0</text>
<text x="1113.84" y="1510.22" font-family='"Liberation Serif", serif' font-size="73.47" font-weight="bold" font-style="italic" fill="#FF0000" stroke="#FF0000" stroke-width="0.8" stroke-linejoin="round" textLength="31.05" lengthAdjust="spacingAndGlyphs">&#x3F5;</text>
<text x="1148.90" y="1522.53" font-family='"Liberation Serif", serif' font-size="48.07" font-weight="bold" font-style="normal" fill="#FF0000" stroke="#FF0000" stroke-width="2.6" stroke-linejoin="round" textLength="58.36" lengthAdjust="spacingAndGlyphs">CG</text>
<text x="1233.09" y="1513.73" font-family='"Liberation Serif", serif' font-size="73.33" font-weight="bold" font-style="normal" fill="#FF0000" stroke="#FF0000" stroke-width="0.8" stroke-linejoin="round" textLength="52.71" lengthAdjust="spacingAndGlyphs">=</text>
<text x="1306.95" y="1508.92" font-family='"Liberation Serif", serif' font-size="69.50" font-weight="bold" font-style="normal" fill="#FF0000" stroke="#FF0000" stroke-width="0.8" stroke-linejoin="round" textLength="39.99" lengthAdjust="spacingAndGlyphs">0</text>
<text x="1349.78" y="1508.86" font-family='"Liberation Serif", serif' font-size="52.43" font-weight="bold" font-style="normal" fill="#FF0000" stroke="#FF0000" stroke-width="0.8" stroke-linejoin="round" textLength="8.64" lengthAdjust="spacingAndGlyphs">.</text>
<text x="1371.30" y="1509.60" font-family='"Liberation Serif", serif' font-size="70.83" font-weight="bold" font-style="normal" fill="#FF0000" stroke="#FF0000" stroke-width="0.8" stroke-linejoin="round" textLength="39.27" lengthAdjust="spacingAndGlyphs">2</text>
<text x="1093.14" y="1594.22" font-family='"Liberation Serif", serif' font-size="73.47" font-weight="bold" font-style="italic" fill="#FF0000" stroke="#FF0000" stroke-width="0.8" stroke-linejoin="round" textLength="31.05" lengthAdjust="spacingAndGlyphs">&#x3F5;</text>
<text x="1125.84" y="1605.62" font-family='"Liberation Serif", serif' font-size="47.45" font-weight="bold" font-style="normal" fill="#FF0000" stroke="#FF0000" stroke-width="1.2" stroke-linejoin="round" textLength="105.21" lengthAdjust="spacingAndGlyphs">dual</text>
<text x="1256.43" y="1598.93" font-family='"Liberation Serif", serif' font-size="73.33" font-weight="bold" font-style="normal" fill="#FF0000" stroke="#FF0000" stroke-width="0.8" stroke-linejoin="round" textLength="51.12" lengthAdjust="spacingAndGlyphs">=</text>
<text x="1326.35" y="1594.22" font-family='"Liberation Serif", serif' font-size="69.50" font-weight="bold" font-style="normal" fill="#FF0000" stroke="#FF0000" stroke-width="0.8" stroke-linejoin="round" textLength="39.99" lengthAdjust="spacingAndGlyphs">0</text>
<text x="1368.86" y="1594.22" font-family='"Liberation Serif", serif' font-size="48.12" font-weight="bold" font-style="normal" fill="#FF0000" stroke="#FF0000" stroke-width="0.8" stroke-linejoin="round" textLength="10.49" lengthAdjust="spacingAndGlyphs">.</text>
<text x="1395.10" y="1594.22" font-family='"Liberation Serif", serif' font-size="69.50" font-weight="bold" font-style="normal" fill="#FF0000" stroke="#FF0000" stroke-width="0.8" stroke-linejoin="round" textLength="40.71" lengthAdjust="spacingAndGlyphs">8</text>
<path d="M1424,1529.3 L1447.4,1522.4 L1458.4,1537.5 Q1483,1511 1517.4,1498.6 Q1521,1500 1519.3,1505 Q1494,1521 1476,1546 Q1466,1560 1455.6,1558.6 Q1447,1557 1439,1541.6 Z" fill="#00AA00"/>
<g transform="rotate(-90)">
<text x="-1603.56" y="100.80" font-family='"Liberation Sans", sans-serif' font-size="65.99" font-weight="normal" font-style="italic" fill="#000" stroke="#000" stroke-width="0.6" stroke-linejoin="round" textLength="40.24" lengthAdjust="spacingAndGlyphs">P</text>
</g>
<g transform="rotate(-90)">
<text x="-1559.71" y="100.03" font-family='"Liberation Sans", sans-serif' font-size="62.15" font-weight="normal" font-style="normal" fill="#000" stroke="#000" stroke-width="0.6" stroke-linejoin="round" textLength="16.70" lengthAdjust="spacingAndGlyphs">(</text>
</g>
<g transform="rotate(-90)">
<text x="-1541.17" y="100.80" font-family='"Liberation Sans", sans-serif' font-size="65.99" font-weight="normal" font-style="italic" fill="#000" stroke="#000" stroke-width="0.6" stroke-linejoin="round" textLength="41.54" lengthAdjust="spacingAndGlyphs">R</text>
</g>
<g transform="rotate(-90)">
<text x="-1498.91" y="113.02" font-family='"Liberation Serif", serif' font-size="42.52" font-weight="normal" font-style="normal" fill="#000" stroke="#000" stroke-width="0.6" stroke-linejoin="round" textLength="21.01" lengthAdjust="spacingAndGlyphs">g</text>
</g>
<g transform="rotate(-90)">
<text x="-1473.27" y="100.03" font-family='"Liberation Sans", sans-serif' font-size="62.15" font-weight="normal" font-style="normal" fill="#000" stroke="#000" stroke-width="0.6" stroke-linejoin="round" textLength="15.07" lengthAdjust="spacingAndGlyphs">)</text>
</g>
<text x="1017.86" y="2214.70" font-family='"Liberation Sans", sans-serif' font-size="66.57" font-weight="normal" font-style="italic" fill="#000" stroke="#000" stroke-width="0.6" stroke-linejoin="round" textLength="40.77" lengthAdjust="spacingAndGlyphs">R</text>
<text x="1058.88" y="2227.28" font-family='"Liberation Serif", serif' font-size="45.20" font-weight="normal" font-style="italic" fill="#000" stroke="#000" stroke-width="0.6" stroke-linejoin="round" textLength="23.61" lengthAdjust="spacingAndGlyphs">g</text>
<text x="1096.56" y="2214.01" font-family='"Liberation Sans", sans-serif' font-size="62.26" font-weight="normal" font-style="normal" fill="#000" stroke="#000" stroke-width="0.6" stroke-linejoin="round" textLength="16.33" lengthAdjust="spacingAndGlyphs">(</text>
<text x="1116.35" y="2214.70" font-family='"Liberation Sans", sans-serif' font-size="62.63" font-weight="normal" font-style="normal" fill="#000" stroke="#000" stroke-width="0.6" stroke-linejoin="round" textLength="97.26" lengthAdjust="spacingAndGlyphs">nm</text>
<text x="1215.03" y="2214.01" font-family='"Liberation Sans", sans-serif' font-size="62.26" font-weight="normal" font-style="normal" fill="#000" stroke="#000" stroke-width="0.6" stroke-linejoin="round" textLength="15.45" lengthAdjust="spacingAndGlyphs">)</text>
</svg>
</body></html>
